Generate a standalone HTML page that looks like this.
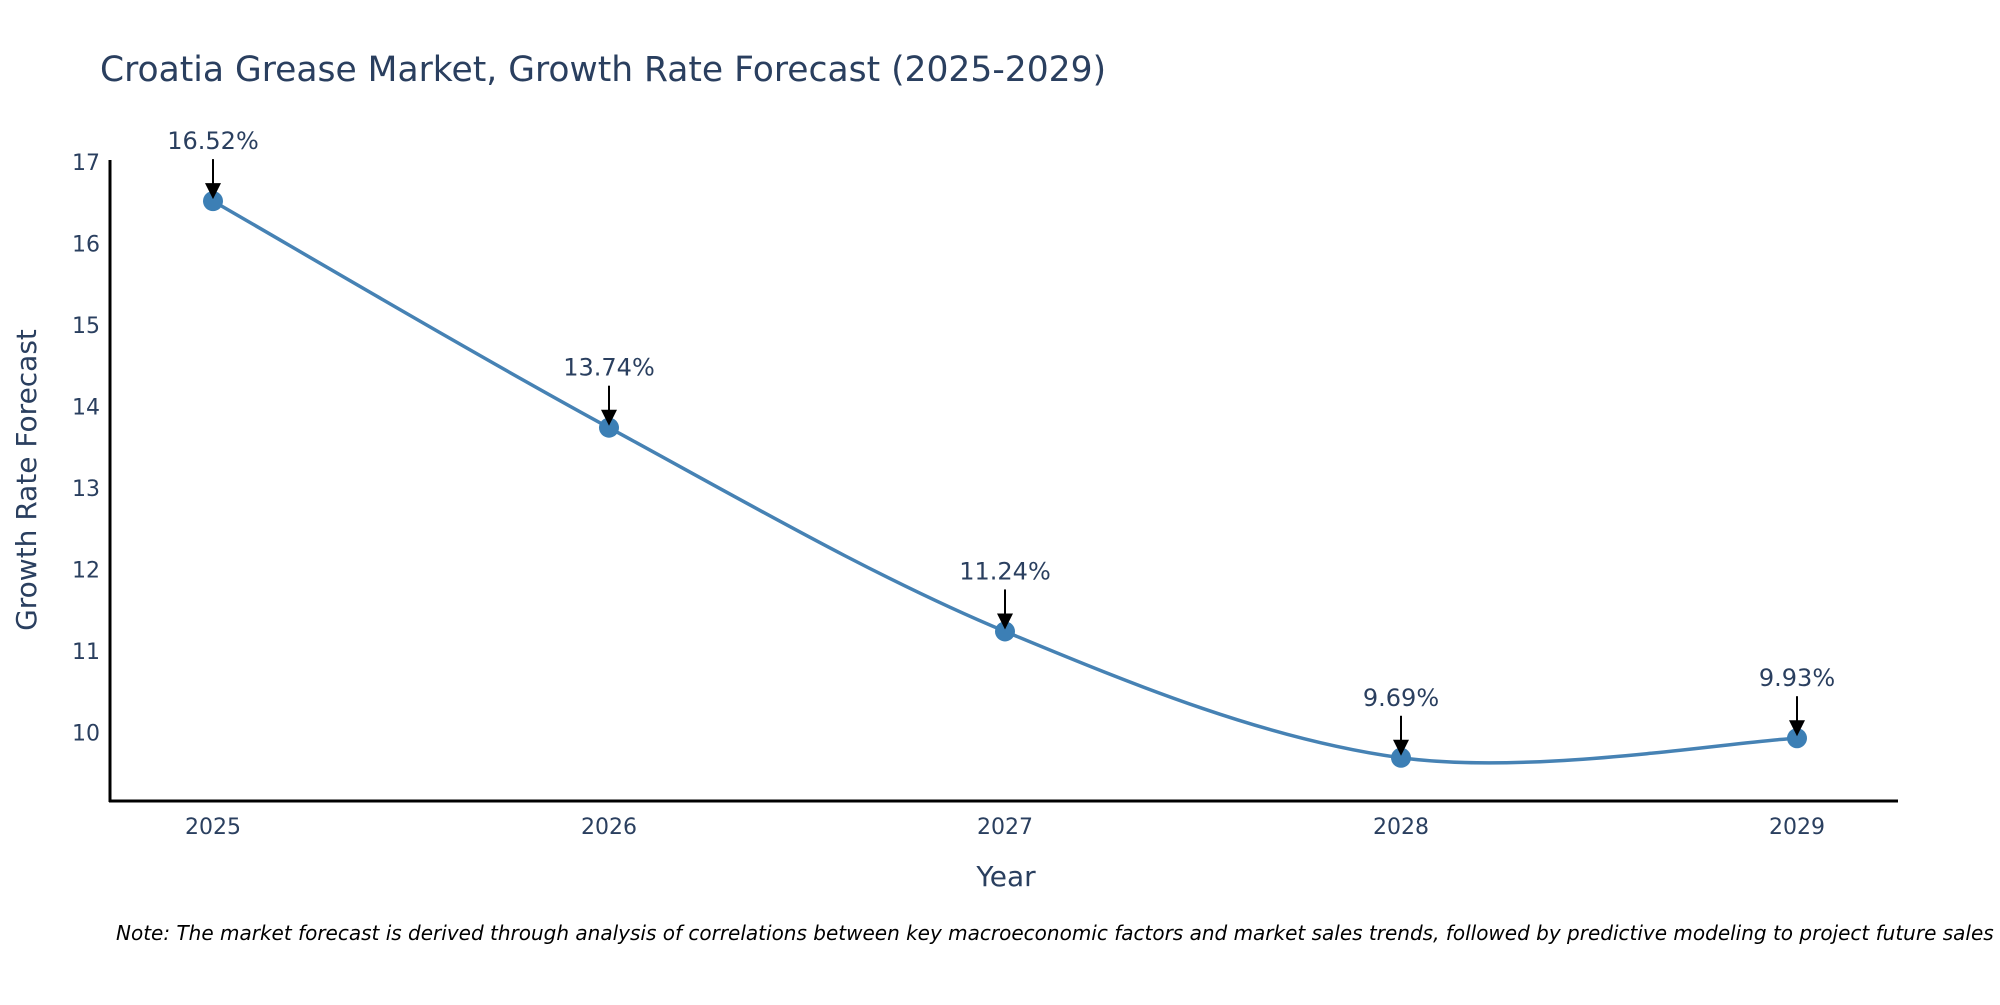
<!DOCTYPE html>
<html><head><meta charset="utf-8"><style>
body{margin:0;background:#fff;width:2000px;height:1000px;overflow:hidden}
svg text{font-family:"DejaVu Sans","Liberation Sans",sans-serif;fill:#2a3f5f}
</style></head><body>
<svg id="chart" width="2000" height="1000" xmlns="http://www.w3.org/2000/svg">
<text x="100" y="81" font-size="34.5">Croatia Grease Market, Growth Rate Forecast (2025-2029)</text>
<g id="yticks"></g><g id="xticks"></g>
<line x1="110" y1="160" x2="110" y2="802" stroke="#000" stroke-width="3"/>
<line x1="109" y1="801" x2="1898" y2="801" stroke="#000" stroke-width="3"/>
<text transform="translate(36,480) rotate(-90)" text-anchor="middle" font-size="28">Growth Rate Forecast</text>
<text x="1006" y="886" text-anchor="middle" font-size="28">Year</text>
<g id="series"></g>
<text x="116" y="940" font-size="20" font-style="italic" style="fill:#000">Note: The market forecast is derived through analysis of correlations between key macroeconomic factors and market sales trends, followed by predictive modeling to project future sales</text>
</svg>
<script>
const years=[2025,2026,2027,2028,2029];
const values=[16.52,13.74,11.24,9.69,9.93];
const labels=["16.52%","13.74%","11.24%","9.69%","9.93%"];
const yTicks=[10,11,12,13,14,15,16,17];
const NS="http://www.w3.org/2000/svg";
const xs=i=>213+i*396;
const ys=v=>162+(17-v)*81.5;
function mk(t,a,p){const e=document.createElementNS(NS,t);for(const k in a)e.setAttribute(k,a[k]);p.appendChild(e);return e;}
const yt=document.getElementById('yticks');
yTicks.forEach(v=>{const t=mk('text',{x:100,y:ys(v)+8,'text-anchor':'end','font-size':22},yt);


t.textContent=v;});
const xt=document.getElementById('xticks');
years.forEach((y,i)=>{const t=mk('text',{x:xs(i),y:834,'text-anchor':'middle','font-size':22},xt);


t.textContent=y;});
const g=document.getElementById('series');
const P=values.map((v,i)=>[xs(i),ys(v)]);
let d=`M${P[0][0]},${P[0][1]}`;
for(let i=0;i<P.length-1;i++){const p0=P[Math.max(0,i-1)],p1=P[i],p2=P[i+1],p3=P[Math.min(P.length-1,i+2)];
d+=` C${p1[0]+(p2[0]-p0[0])/6},${p1[1]+(p2[1]-p0[1])/6} ${p2[0]-(p3[0]-p1[0])/6},${p2[1]-(p3[1]-p1[1])/6} ${p2[0]},${p2[1]}`;}
const line=mk('path',{d:d,fill:'none',stroke:'#4682b4','stroke-width':3.5},g);


P.forEach((p,i)=>{
const c=mk('circle',{cx:p[0],cy:p[1],r:10,fill:'#3c7fb5'},g);


const a=mk('line',{x1:p[0],y1:p[1]-42,x2:p[0],y2:p[1]-14,stroke:'#000','stroke-width':2},g);


const h=mk('polygon',{points:`${p[0]-8},${p[1]-18} ${p[0]+8},${p[1]-18} ${p[0]},${p[1]-2}`,fill:'#000'},g);


const t=mk('text',{x:p[0],y:p[1]-52,'text-anchor':'middle','font-size':24},g);


t.textContent=labels[i];});
</script>
</body></html>
